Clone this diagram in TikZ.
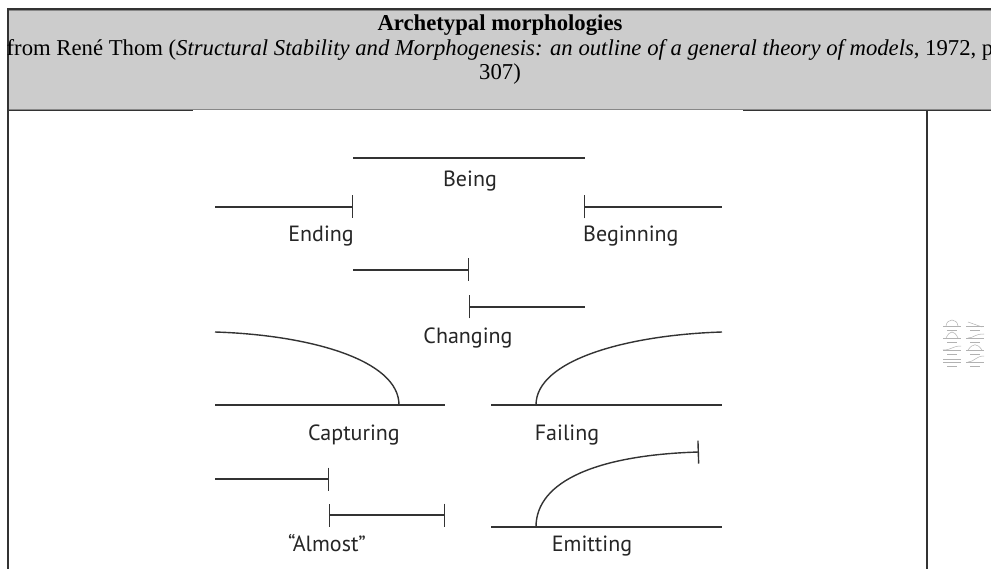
\documentclass[tikz,border=0pt]{standalone}
\usepackage{fontspec}
\setmainfont{Liberation Serif}
\newfontfamily\figfont{PT Sans}
\usetikzlibrary{arrows.meta}

\tikzset{
  morph/.style={line width=1.4pt, draw=black!80},
  endbar/.style={-{Bar[width=23pt,line width=1.4pt]}},
  barend/.style={{Bar[width=23pt,line width=1.4pt]}-},
  bothbars/.style={{Bar[width=23pt,line width=1.4pt]}-{Bar[width=23pt,line width=1.4pt]}},
  morphlabel/.style={font=\figfont\fontsize{22}{24}\selectfont, text=black!85, inner sep=0pt, anchor=base},
  headtext/.style={font=\fontsize{22.7}{24}\selectfont, inner sep=0pt, anchor=base},
  thumb/.style={line width=0.5pt, draw=black!30},
}

\begin{document}
\begin{tikzpicture}[x=1pt, y=-1pt]
  \useasboundingbox (0,0) rectangle (991,569);
  \clip (0,0) rectangle (991,569);
  \fill[white] (0,0) rectangle (991,569);

  % Header cell
  \fill[black!20] (8,10) rectangle (991,110);
  \fill[black!80] (7,8) rectangle (991,10);
  \fill[black!47] (8,10) rectangle (991,11);
  \fill[black!47] (8,109) rectangle (991,110.5);
  \fill[black!80] (8,110.5) rectangle (193,111.5);
  \fill[black!80] (743,110.5) rectangle (991,111.5);
  % Table borders
  \fill[black!80] (7,8) rectangle (8.5,569);
  \fill[black!80] (926,110) rectangle (928,569);

  \node[headtext] (title) at (500,31) {\bfseries Archetypal morphologies};
  \node[headtext] (source) at (500,56) {from René Thom (\textit{Structural Stability and Morphogenesis: an outline of a general theory of models}, 1972, p};
  \node[headtext] (page) at (500,80) {307)};

  % Being
  \draw[morph] (353,158) -- (585,158);
  \node[morphlabel] (being) at (470,187) {Being};

  % Ending and Beginning
  \draw[morph, endbar] (215,207) -- (353,207);
  \node[morphlabel, anchor=base east] (ending) at (354,242) {Ending};
  \draw[morph, barend] (584,207) -- (722,207);
  \node[morphlabel, anchor=base west] (beginning) at (583,242) {Beginning};

  % Changing
  \draw[morph, endbar] (353,270) -- (469,270);
  \draw[morph, barend] (469,307) -- (585,307);
  \node[morphlabel] (changing) at (468,344) {Changing};

  % Capturing
  \draw[morph] (215,405) -- (445,405);
  \draw[morph] (215,332) .. controls (310,335) and (399,360) .. (399,405);
  \node[morphlabel] (capturing) at (354,440) {Capturing};

  % Failing
  \draw[morph] (491,405) -- (722,405);
  \draw[morph] (536,405) .. controls (536,360) and (627,335) .. (722,332);
  \node[morphlabel] (failing) at (567,440) {Failing};

  % Almost
  \draw[morph, endbar] (215,479) -- (329,479);
  \draw[morph, bothbars] (329,515) -- (445,515);
  \node[morphlabel] (almost) at (327,551) {“Almost”};

  % Emitting
  \draw[morph] (491,527) -- (722,527);
  \draw[morph, endbar] (536,527) .. controls (536,480) and (600,455) .. (699,452);
  \node[morphlabel] (emitting) at (592,551) {Emitting};

  % Small picture in the right cell
  \foreach \row in {0,1,2,3} {
    \draw[thumb] (943,326+12*\row) -- (961,326+12*\row);
    \draw[thumb] (966,326+12*\row) -- (984,326+12*\row);
    \draw[thumb] (947,330+12*\row) -- (957,330+12*\row);
    \draw[thumb] (970,330+12*\row) -- (980,330+12*\row);
  }
  \draw[thumb] (946,326) .. controls (947,318) and (957,318) .. (958,326);
  \draw[thumb] (968,322) -- (982,327);
  \draw[thumb] (946,338) .. controls (950,330) and (954,330) .. (958,338);
  \draw[thumb] (968,338) .. controls (974,338) and (974,334) .. (984,334);
  \draw[thumb] (943,350) .. controls (952,350) and (952,346) .. (961,346);
  \draw[thumb] (968,350) .. controls (973,343) and (977,343) .. (982,350);
  \draw[thumb] (943,359) -- (961,359);
  \draw[thumb] (968,362) .. controls (974,362) and (976,356) .. (984,356);
\end{tikzpicture}
\end{document}
